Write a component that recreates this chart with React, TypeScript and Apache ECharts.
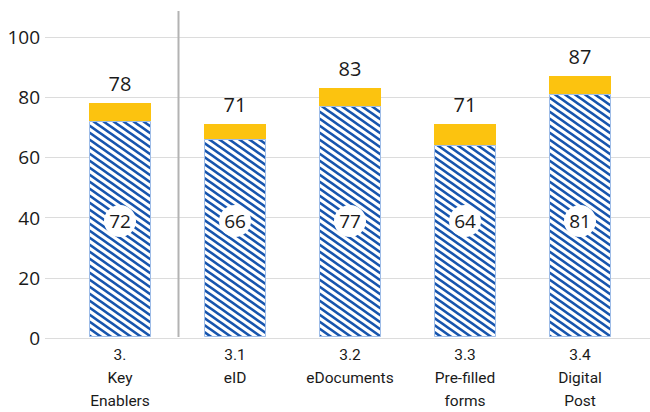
import React, { useEffect, useRef } from "react";
import * as echarts from "echarts";

const categories = ["3.\nKey\nEnablers", "3.1\neID", "3.2\neDocuments", "3.3\nPre-filled\nforms", "3.4\nDigital\nPost"];
const baseValues = [72, 66, 77, 64, 81];
const totalValues = [78, 71, 83, 71, 87];
const yTicks = [0, 20, 40, 60, 80, 100];

const BLUE = "#1755ae";
const YELLOW = "#fcc30f";

function makeHatch(): HTMLCanvasElement {
  const W = 10;
  const H = 7;
  const c = document.createElement("canvas");
  c.width = W;
  c.height = H;
  const ctx = c.getContext("2d")!;
  ctx.fillStyle = "#ffffff";
  ctx.fillRect(0, 0, W, H);
  ctx.strokeStyle = BLUE;
  ctx.lineWidth = 2.6;
  for (const off of [-W, 0, W]) {
    ctx.beginPath();
    ctx.moveTo(off - W, -H);
    ctx.lineTo(off + 2 * W, 2 * H);
    ctx.stroke();
  }
  return c;
}

export default function App() {
  const ref = useRef<HTMLDivElement>(null);
  useEffect(() => {
    if (!ref.current) return;
    const chart = echarts.init(ref.current, null, { renderer: "svg" });
    const hatch = makeHatch();
    const topValues = totalValues.map((t, i) => t - baseValues[i]);
    const numFont = "'Open Sans', 'Noto Sans', sans-serif";
    chart.setOption({
      animation: false,
      grid: [
        { left: 45, right: 0, top: 37, bottom: 74 },
        { left: 62.5, right: 12.5, top: 37, bottom: 74 },
      ],
      xAxis: [
        { type: "value", gridIndex: 0, show: false, min: 0, max: 1 },
        {
          type: "category",
          gridIndex: 1,
          data: categories,
          axisLine: { show: false },
          axisTick: { show: false },
          axisLabel: {
            color: "#1a1a1a",
            fontSize: 15.5,
            lineHeight: 23,
            margin: 6,
            fontFamily: "Roboto, sans-serif",
            interval: 0,
          },
        },
      ],
      yAxis: [
        {
          type: "value",
          gridIndex: 0,
          min: yTicks[0],
          max: yTicks[yTicks.length - 1],
          interval: 20,
          axisLine: { show: false },
          axisTick: { show: false },
          axisLabel: { color: "#1a1a1a", fontSize: 19, margin: 5, fontFamily: numFont },
          splitLine: { lineStyle: { color: "#dcdcdc", width: 1 } },
        },
        {
          type: "value",
          gridIndex: 1,
          min: 0,
          max: 100,
          show: false,
          splitLine: { show: false },
        },
      ],
      series: [
        {
          type: "bar",
          xAxisIndex: 1,
          yAxisIndex: 1,
          stack: "s",
          barWidth: 62,
          data: baseValues,
          itemStyle: {
            color: { image: hatch, repeat: "repeat" },
            borderColor: "#9fbde8",
            borderWidth: 1,
          },
          label: {
            show: true,
            position: "insideBottom",
            distance: 100,
            color: "#1a1a1a",
            fontSize: 19,
            fontFamily: numFont,
            backgroundColor: "#ffffff",
            width: 32,
            height: 32,
            lineHeight: 32,
            borderRadius: 16,
            padding: 0,
            align: "center",
          },
        },
        {
          type: "bar",
          xAxisIndex: 1,
          yAxisIndex: 1,
          stack: "s",
          barWidth: 62,
          data: topValues,
          itemStyle: { color: YELLOW },
          label: {
            show: true,
            position: "top",
            distance: 10,
            color: "#1a1a1a",
            fontSize: 20,
            fontFamily: numFont,
            formatter: (p: any) => String(totalValues[p.dataIndex]),
          },
        },
      ],
    });
    const x0 = chart.convertToPixel({ xAxisIndex: 1 }, 0) as number;
    const x1 = chart.convertToPixel({ xAxisIndex: 1 }, 1) as number;
    const yZero = chart.convertToPixel({ yAxisIndex: 1 }, 0) as number;
    const sx = (x0 + x1) / 2 + 1;
    chart.setOption({
      graphic: [
        {
          type: "line",
          shape: { x1: sx, y1: 11, x2: sx, y2: yZero },
          style: { stroke: "#b3b3b3", lineWidth: 2 },
          z: 10,
        },
      ],
    });
    return () => chart.dispose();
  }, []);
  return <div ref={ref} style={{ width: 650, height: 412, position: "absolute", left: 0, top: 0 }} />;
}
